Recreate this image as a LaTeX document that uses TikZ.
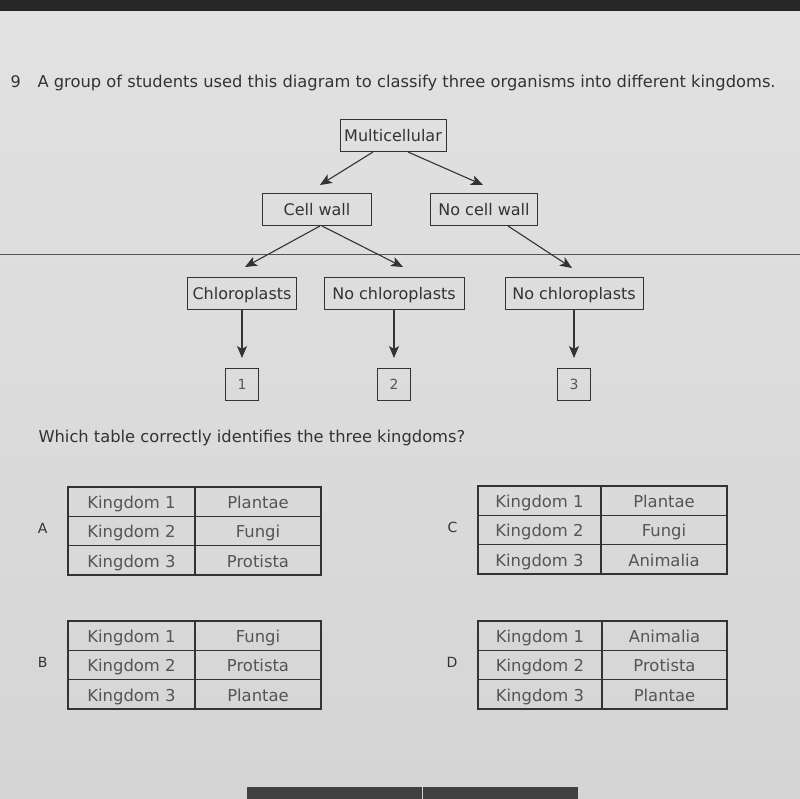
\documentclass[tikz,border=0pt]{standalone}
\usepackage{fontspec}
\setmainfont{DejaVu Sans}
\usepackage{tikz}
\usetikzlibrary{positioning, arrows.meta}

\definecolor{screen}{HTML}{E0E0E0}
\definecolor{ink}{HTML}{333333}
\definecolor{softink}{HTML}{555555}

\begin{document}
\begin{tikzpicture}[x=1pt, y=-1pt,
    trait/.style={draw=ink, line width=1pt, text=ink, inner sep=0pt, outer sep=0pt,
        minimum height=32pt, text height=12.6pt, text depth=1pt, font=\fontsize{16}{18}\selectfont},
    numbox/.style={draw=ink, line width=1pt, text=softink, inner sep=0pt, outer sep=0pt,
        minimum width=33pt, minimum height=32pt, font=\fontsize{14}{16}\selectfont},
    arr/.style={draw=ink, line width=1.1pt, -{Stealth[length=12pt, width=10pt, inset=3pt]}},
    kcell/.style={draw=ink, line width=0.8pt, text=softink, inner sep=0pt, outer sep=0pt,
        minimum height=29.3pt, text height=14pt, text depth=0pt, font=\fontsize{16.4}{18}\selectfont},
    optlabel/.style={text=ink, font=\fontsize{14}{16}\selectfont},
    tblframe/.style={draw=ink, line width=2pt}]

\useasboundingbox (0,0) rectangle (800,799);
\shade[top color=screen!94!white, bottom color=screen!95!black] (0,0) rectangle (800,799);
\fill[black!85] (0,0) rectangle (800,11);
\draw[softink, line width=0.9pt] (0,254) -- (800,254);
\fill[black!75] (247,787) rectangle (422,799);
\fill[black!75] (423,787) rectangle (578,799);

% question
\node[anchor=base west, text=ink, font=\fontsize{16}{18}\selectfont] (qnum) at (7,88) {9};
\node[anchor=base west, text=ink, font=\fontsize{16.3}{18}\selectfont] (qtext) at (34,88)
    {A group of students used this diagram to classify three organisms into different kingdoms.};

% key
\node[trait, minimum width=106pt] (multi) at (393,136) {Multicellular};
\node[trait, minimum width=109pt] (wall) at (317,210) {Cell wall};
\node[trait, minimum width=107pt] (nowall) at (484,210) {No cell wall};
\node[trait, minimum width=109pt] (chloro) at (242,294) {Chloroplasts};
\node[trait, minimum width=140pt] (nochloroA) at (394,294) {No chloroplasts};
\node[trait, minimum width=138pt] (nochloroB) at (574,294) {No chloroplasts};
\node[numbox] (k1) at (242,384) {1};
\node[numbox] (k2) at (394,384) {2};
\node[numbox] (k3) at (574,384) {3};

\draw[arr] ([xshift=-20]multi.south) -- ([xshift=3, yshift=9]wall.north);
\draw[arr] ([xshift=15]multi.south) -- ([xshift=-1, yshift=9]nowall.north);
\draw[arr] ([xshift=3]wall.south) -- ([xshift=3, yshift=11]chloro.north);
\draw[arr] ([xshift=5]wall.south) -- ([xshift=9, yshift=11]nochloroA.north);
\draw[arr] ([xshift=24]nowall.south) -- ([xshift=-2, yshift=10]nochloroB.north);
\draw[arr] (chloro.south) -- ([yshift=10]k1.north);
\draw[arr] (nochloroA.south) -- ([yshift=10]k2.north);
\draw[arr] (nochloroB.south) -- ([yshift=10]k3.north);

\node[anchor=base west, text=ink, font=\fontsize{16.3}{18}\selectfont] (ask) at (35,442)
    {Which table correctly identifies the three kingdoms?};

% answer tables
\foreach \t/\x/\y/\wa/\wb/\p/\q/\r in {
    A/68/487/127pt/126pt/Plantae/Fungi/Protista,
    B/68/621/127pt/126pt/Fungi/Protista/Plantae,
    C/478/486/123pt/126pt/Plantae/Fungi/Animalia,
    D/478/621/124pt/125pt/Animalia/Protista/Plantae}{
  \node[kcell, minimum width=\wa, anchor=north west] (\t1) at (\x,\y) {Kingdom 1};
  \node[kcell, minimum width=\wa, below=0pt of \t1] (\t2) {Kingdom 2};
  \node[kcell, minimum width=\wa, below=0pt of \t2] (\t3) {Kingdom 3};
  \node[kcell, minimum width=\wb, right=0pt of \t1] (\t1v) {\p};
  \node[kcell, minimum width=\wb, right=0pt of \t2] (\t2v) {\q};
  \node[kcell, minimum width=\wb, right=0pt of \t3] (\t3v) {\r};
  \draw[tblframe] (\t1.north west) rectangle (\t3v.south east);
  \draw[tblframe] (\t1v.north west) -- (\t3v.south west);
  \node[optlabel, left=17pt of \t2, yshift=3pt] (\t lab) {\t};
}

\end{tikzpicture}
\end{document}
